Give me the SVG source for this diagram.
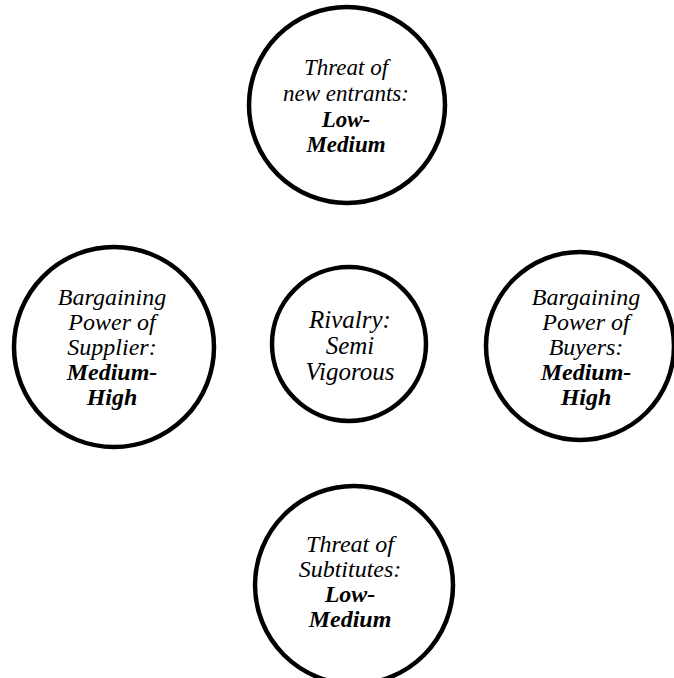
<svg xmlns="http://www.w3.org/2000/svg" width="674" height="678" viewBox="0 0 674 678">
<style>
.c{fill:none;stroke:#000;stroke-width:4.5}
.t{font-family:"Liberation Serif","Times New Roman",serif;font-style:italic;font-size:24px;fill:#000;text-anchor:middle}
.s{font-size:23px}
.l{font-size:25px}
.b{font-weight:bold}
</style>
<rect width="674" height="678" fill="#fff"/>
<g id="connectors"></g>
<g id="new-entrants">
<circle class="c" cx="347" cy="105" r="98"/>
<text class="t s" x="346" y="75">Threat of</text>
<text class="t s" x="346" y="101">new entrants:</text>
<text class="t s b" x="346" y="127">Low-</text>
<text class="t s b" x="346" y="152">Medium</text>
</g>
<g id="suppliers">
<circle class="c" cx="114" cy="347" r="100"/>
<text class="t" x="112" y="305">Bargaining</text>
<text class="t" x="112" y="330">Power of</text>
<text class="t" x="112" y="355">Supplier:</text>
<text class="t b" x="112" y="380">Medium-</text>
<text class="t b" x="112" y="405">High</text>
</g>
<g id="rivalry">
<circle class="c" cx="349" cy="344" r="77"/>
<text class="t l" x="350" y="328">Rivalry:</text>
<text class="t l" x="350" y="354">Semi</text>
<text class="t l" x="350" y="380">Vigorous</text>
</g>
<g id="buyers">
<circle class="c" cx="580" cy="346" r="94"/>
<text class="t" x="586" y="305">Bargaining</text>
<text class="t" x="586" y="330">Power of</text>
<text class="t" x="586" y="355">Buyers:</text>
<text class="t b" x="586" y="380">Medium-</text>
<text class="t b" x="586" y="405">High</text>
</g>
<g id="substitutes">
<circle class="c" cx="354" cy="585" r="99"/>
<text class="t" x="350" y="552">Threat of</text>
<text class="t" x="350" y="577">Subtitutes:</text>
<text class="t b" x="350" y="602">Low-</text>
<text class="t b" x="350" y="627">Medium</text>
</g>
</svg>
